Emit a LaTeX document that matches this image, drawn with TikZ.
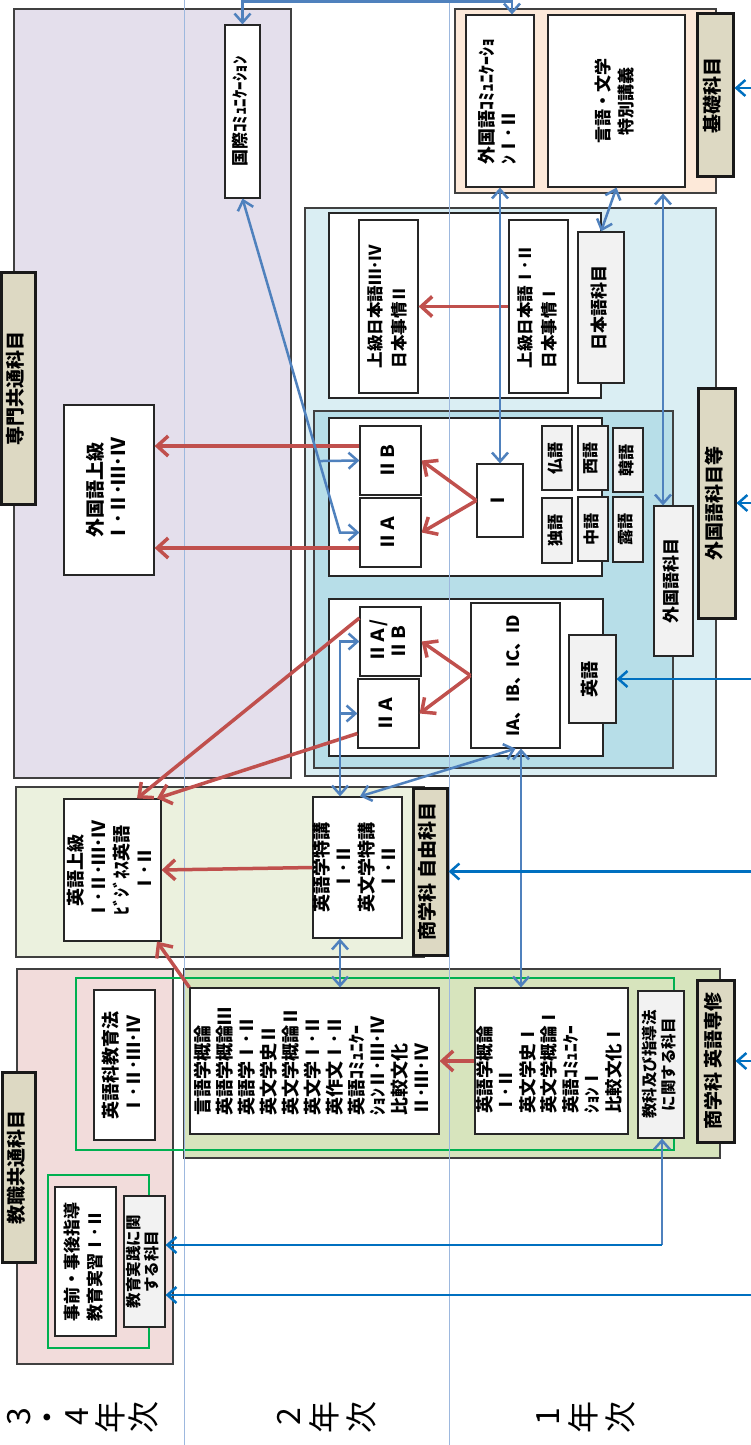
\documentclass[tikz,border=0pt]{standalone}
\usepackage{fontspec}
\setmainfont{Noto Sans CJK JP}
\usepackage{graphicx}
\usetikzlibrary{arrows.meta,calc}

\definecolor{lav}{HTML}{E4DFEC}
\definecolor{peach}{HTML}{FDE9D9}
\definecolor{skyA}{HTML}{DAEEF3}
\definecolor{skyB}{HTML}{B7DEE8}
\definecolor{leafA}{HTML}{EBF1DE}
\definecolor{leafB}{HTML}{D7E4BD}
\definecolor{rose}{HTML}{F2DCDB}
\definecolor{tagtan}{HTML}{DDD9C3}
\definecolor{boxgray}{HTML}{F2F2F2}
\definecolor{steel}{HTML}{4F81BD}
\definecolor{deepblue}{HTML}{0070C0}
\definecolor{brick}{HTML}{C0504D}
\definecolor{frameg}{HTML}{00B050}
\definecolor{yearline}{HTML}{9DB8DE}
\definecolor{edge}{HTML}{404040}

\newcommand{\vt}[2][c]{\rotatebox{90}{\begin{tabular}{@{}#1@{}}#2\end{tabular}}}

\begin{document}
\begin{tikzpicture}[x=1pt, y=-1pt,
  wh/.style 2 args={minimum width=#1, minimum height=#2},
  fs/.style 2 args={font=\bfseries\fontsize{#1}{#2}\selectfont},
  region/.style={draw=edge, line width=1.2pt, fill=#1, inner sep=0pt},
  box/.style={draw=black!85, line width=1.2pt, fill=#1, inner sep=0pt, fs={18}{21.5}},
  box/.default=white,
  tag/.style={draw=black!90, line width=3pt, fill=tagtan, inner sep=0pt, fs={19}{22}},
  year/.style={inner sep=0pt, font=\mdseries\fontsize{32}{32}\selectfont},
  frame/.style={draw=frameg, line width=2.5pt},
  >={Straight Barb[length=9pt,width=16pt]},
  barr/.style={steel, line width=2.5pt},
  darr/.style={deepblue, line width=2.5pt, ->},
  rarr/.style={brick, line width=3.5pt, -{Straight Barb[length=11pt,width=20pt]}}
]
  \useasboundingbox (0,0) rectangle (751,1445);

  % regions
  \node[region=lav, wh={277}{769}] (senmon) at (152.5,393.5) {};
  \node[region=peach, wh={261}{184}] (kiso) at (585.5,101) {};
  \node[region=skyA, wh={411}{568}] (gaito) at (510.5,492) {};
  \node[region=skyB, wh={359}{357}] (gaiin) at (493.5,589.5) {};
  \node[region=leafA, wh={408}{170}] (jiyu) at (220,872) {};
  \node[region=rose, wh={156}{395}] (kyoshoku) at (95,1166.5) {};
  \node[region=leafB, wh={536}{189}] (senshu) at (452,1063.5) {};

  \node[box, wh={272}{185}] (nihon) at (465,305.5) {};
  \node[box, wh={273}{158}] (others) at (465.5,497) {};
  \node[box, wh={274}{157}] (english) at (466,677.5) {};

  \draw[frame] (76,978) rectangle (674,1150);
  \draw[frame] (48,1175) rectangle (149,1348);

  \foreach \x in {184,449}
    \draw[yearline, line width=0.8pt] (\x,0) -- (\x,1445);

  % boxes
  \node[box, wh={35}{173}, fs={17}{20}] (kokusai) at (242.5,111.5) {\vt{国際ｺﾐｭﾆｹｰｼｮﾝ}};
  \node[box, wh={90}{170}, fs={19}{23}] (gaijo) at (109,490) {\vt{外国語上級\\Ⅰ･Ⅱ･Ⅲ･Ⅳ}};
  \node[box, wh={68}{172}] (gaicomm) at (500,101) {\vt[l]{外国語ｺﾐｭﾆｹｰｼｮ\\ﾝⅠ･Ⅱ}};
  \node[box, wh={137}{172}, fs={17}{23}] (gengo) at (616.5,101) {\vt{言語・文学\\特別講義}};
  \node[box, wh={59}{173}, fs={16.5}{24}] (jo34) at (388.5,306.5) {\vt[l]{上級日本語Ⅲ･Ⅳ\\日本事情Ⅱ}};
  \node[box, wh={59}{173}, fs={16.5}{24}] (jo12) at (538.5,306.5) {\vt[l]{上級日本語Ⅰ･Ⅱ\\日本事情Ⅰ}};
  \node[box=boxgray, wh={46}{151}, fs={17}{20}] (nihongo) at (601,307.5) {\vt{日本語科目}};

  \node[box, wh={61}{69}] (o2b) at (390.5,460.5) {\vt{ⅡＢ}};
  \node[box, wh={61}{69}] (o2a) at (390.5,532.5) {\vt{ⅡＡ}};
  \node[box, wh={46}{73}] (o1) at (500,500.5) {\vt{Ⅰ}};
  \node[box=boxgray, wh={30}{64}, fs={16}{18}] (futsu) at (557,458) {\vt{仏語}};
  \node[box=boxgray, wh={30}{65}, fs={16}{18}] (doku) at (557,530.5) {\vt{独語}};
  \node[box=boxgray, wh={30}{64}, fs={16}{18}] (sei) at (593,458) {\vt{西語}};
  \node[box=boxgray, wh={30}{64}, fs={16}{18}] (chu) at (593,529) {\vt{中語}};
  \node[box=boxgray, wh={30}{64}, fs={16}{18}] (kan) at (628,460) {\vt{韓語}};
  \node[box=boxgray, wh={30}{65}, fs={16}{18}] (ro) at (628,529.5) {\vt{露語}};
  \node[box=boxgray, wh={39}{150}, fs={17}{20}] (gaika) at (673.5,581) {\vt{外国語科目}};

  \node[box, wh={61}{69}] (e2ab) at (390.5,641.5) {\vt{ⅡＡ/\\ⅡＢ}};
  \node[box, wh={61}{69}] (e2a) at (388.5,713.5) {\vt{ⅡＡ}};
  \node[box, wh={89}{145}, fs={17}{20}] (e1) at (515.5,675.5) {\vt{IA、IB、IC、ID}};
  \node[box=boxgray, wh={47}{88}] (eigo) at (592.5,679) {\vt{英語}};

  \node[box, wh={97}{142}, fs={18}{23}] (eijo) at (112.5,870) {\vt{英語上級\\Ⅰ･Ⅱ･Ⅲ･Ⅳ\\ﾋﾞｼﾞﾈｽ英語\\Ⅰ･Ⅱ}};
  \node[box, wh={89}{141}, fs={18}{22}] (tokko) at (357.5,867.5) {\vt{英語学特講\\Ⅰ･Ⅱ\\英文学特講\\Ⅰ･Ⅱ}};

  \node[box, wh={61}{150}, fs={18}{23}] (kyoiku) at (124.5,1065) {\vt{英語科教育法\\Ⅰ･Ⅱ･Ⅲ･Ⅳ}};
  \node[box, wh={61}{149}, fs={17}{23}] (jizen) at (85.5,1261.5) {\vt[l]{事前・事後指導\\教育実習Ⅰ･Ⅱ}};
  \node[box=boxgray, wh={41}{131}, fs={15.5}{17.5}] (jissen) at (144.5,1261.5) {\vt{教育実践に関\\する科目}};
  \node[box, wh={249}{146}] (list2) at (314.5,1061) {\vt[l]{言語学概論\\英語学概論Ⅲ\\英語学Ⅰ･Ⅱ\\英文学史Ⅱ\\英文学概論Ⅱ\\英文学Ⅰ･Ⅱ\\英作文Ⅰ･Ⅱ\\英語ｺﾐｭﾆｹｰ\\ｼｮﾝⅡ･Ⅲ･Ⅳ\\比較文化\\Ⅱ･Ⅲ･Ⅳ}};
  \node[box, wh={153}{146}, fs={17.5}{21.5}] (list1) at (551.5,1061) {\vt[l]{英語学概論\\Ⅰ･Ⅱ\\英文学史Ⅰ\\英文学概論Ⅰ\\英語ｺﾐｭﾆｹｰ\\ｼｮﾝⅠ\\比較文化Ⅰ}};
  \node[box=boxgray, wh={46}{147}, fs={15.5}{18}] (kyoka) at (661,1064.5) {\vt{教科及び指導法\\に関する科目}};

  % tags
  \node[tag, wh={34}{232}] (tsenmon) at (18,388) {\vt{専門共通科目}};
  \node[tag, wh={36}{162}] (tkiso) at (715,95) {\vt{基礎科目}};
  \node[tag, wh={37}{230}] (tgai) at (716.5,503) {\vt{外国語科目等}};
  \node[tag, wh={34}{167}] (tjiyu) at (430,871.5) {\vt{商学科 自由科目}};
  \node[tag, wh={33}{190}] (tkyo) at (18.5,1167) {\vt{教職共通科目}};
  \node[tag, wh={37}{162}] (tsenshu) at (715.5,1061) {\vt{商学科 英語専修}};

  \node[year] (y34) at (86,1417) {\vt{3\\[-3pt]・\\[-3pt]4\\[-3pt]年\\[-3pt]次}};
  \node[year] (y2) at (330,1417) {\vt{2\\年\\次}};
  \node[year] (y1) at (589,1417) {\vt{1\\年\\次}};

  % red arrows
  \draw[rarr] (jo12.west) -- (jo34.east);
  \draw[rarr] (o1.west) -- (o2b.east);
  \draw[rarr] (o1.west) -- (o2a.east);
  \draw[rarr] (o2b.west |- 0,446) -- (gaijo.east |- 0,446);
  \draw[rarr] (o2a.west |- 0,548) -- (gaijo.east |- 0,548);
  \draw[rarr] (e1.west) -- (e2ab.east);
  \draw[rarr] (e1.west) -- (e2a.east);
  \draw[rarr] ([yshift=23.5pt]e2ab.west) -- ([xshift=24.5pt]eijo.north);
  \draw[rarr] ([yshift=-20pt]e2a.west) -- ([xshift=44.5pt]eijo.north);
  \draw[rarr] (tokko.west) -- (eijo.east);
  \draw[rarr] (list2.north west) -- ([xshift=44.5pt]eijo.south);
  \draw[rarr] (list1.west) -- (list2.east);

  % blue links
  \coordinate (kbend) at (340,532.5);
  \coordinate (kyobend) at (662,1245);
  \draw[barr, <->] (kokusai.north) |- ([xshift=12pt, yshift=13pt]gaicomm.north) -- ([xshift=12pt]gaicomm.north);
  \draw[barr, <->] (kokusai.south) -- (kbend) -- (o2a.west);
  \draw[barr, ->] ($(kokusai.south)!0.786!(kbend)$) -- (o2b.west);
  \draw[barr, <->] (gaicomm.south) -- (o1.north);
  \draw[barr, <->] (gengo.south) -- (nihongo.north);
  \draw[barr, <->] (kiso.south -| 663,0) -- (gaika.north -| 663,0);
  \draw[barr, <->] (e2ab.west) -| (tokko.north -| 340,0);
  \draw[barr, ->] (e2a.west -| 340,0) -- (e2a.west);
  \draw[barr, <->] ([xshift=2.5pt]tokko.north) -- (e1.south);
  \draw[barr, <->] (tokko.south -| 340,0) -- (list2.north -| 340,0);
  \draw[barr, <->] (e1.south -| 521,0) -- (list1.north -| 521,0);
  \draw[barr, <-] (kyoka.south -| kyobend) -- (kyobend);
  \draw[darr] (kyobend) -- (kyobend -| jissen.east);

  % inputs from the right
  \coordinate (inKiso) at (751,88);
  \coordinate (inGai) at (751,503);
  \coordinate (inEigo) at (751,679);
  \coordinate (inJiyu) at (751,871.5);
  \coordinate (inSenshu) at (751,1061);
  \coordinate (inJissen) at (751,1295);
  \draw[darr] (inKiso) -- (inKiso -| tkiso.east);
  \draw[darr] (inGai) -- (tgai.east);
  \draw[darr] (inEigo) -- (eigo.east);
  \draw[darr] (inJiyu) -- (tjiyu.east);
  \draw[darr] (inSenshu) -- (tsenshu.east);
  \draw[darr] (inJissen) -- (inJissen -| jissen.east);
\end{tikzpicture}
\end{document}
